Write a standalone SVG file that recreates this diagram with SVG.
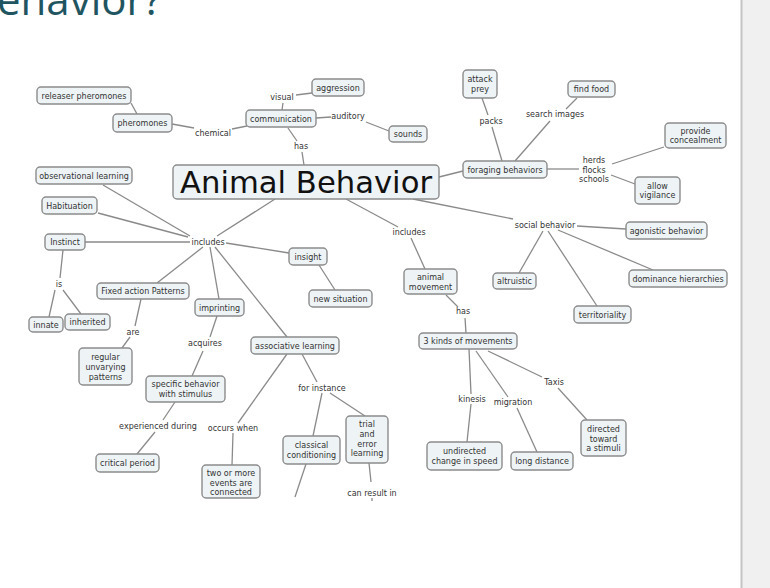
<svg xmlns="http://www.w3.org/2000/svg" width="770" height="588" viewBox="0 0 770 588">
<style>
.n rect{fill:#eef3f6;stroke:#8c8c8c;stroke-width:1.4}
text{font-family:"DejaVu Sans",Verdana,sans-serif;font-size:8px;fill:#333;text-anchor:middle}
.c line{stroke:#8a8a8a;stroke-width:1.3;fill:none}
</style>
<rect x="0" y="0" width="770" height="588" fill="#ffffff"/>
<rect x="742" y="0" width="28" height="588" fill="#f0f0f0"/>
<line x1="741.5" y1="0" x2="741.5" y2="588" stroke="#c4c4c4" stroke-width="2"/>
<text x="-3" y="15" style="font-family:'Open Sans','DejaVu Sans',sans-serif;font-size:42px;fill:#1f5561;text-anchor:start">ehavior?</text>

<g class="c" id="connectors">
<line x1="131" y1="103" x2="137" y2="114"/>
<line x1="172" y1="124" x2="194" y2="128"/>
<line x1="232" y1="129" x2="247" y2="126"/>
<line x1="282" y1="110" x2="283" y2="103"/>
<line x1="296" y1="95" x2="312" y2="93"/>
<line x1="316" y1="118" x2="331" y2="117"/>
<line x1="366" y1="122" x2="389" y2="131"/>
<line x1="288" y1="128" x2="297" y2="141"/>
<line x1="302" y1="152" x2="304" y2="165"/>
<line x1="439" y1="177" x2="463" y2="171"/>
<line x1="482" y1="98" x2="488" y2="115"/>
<line x1="492" y1="127" x2="502" y2="161"/>
<line x1="577" y1="98" x2="566" y2="109"/>
<line x1="550" y1="121" x2="515" y2="161"/>
<line x1="547" y1="169" x2="579" y2="169"/>
<line x1="612" y1="164" x2="664" y2="147"/>
<line x1="611" y1="175" x2="635" y2="184"/>
<line x1="413" y1="199" x2="513" y2="219"/>
<line x1="577" y1="226" x2="626" y2="229"/>
<line x1="543" y1="231" x2="519" y2="273"/>
<line x1="548" y1="231" x2="597" y2="306"/>
<line x1="558" y1="230" x2="653" y2="270"/>
<line x1="346" y1="199" x2="398" y2="227"/>
<line x1="411" y1="238" x2="425" y2="269"/>
<line x1="446" y1="295" x2="458" y2="307"/>
<line x1="465" y1="318" x2="466" y2="333"/>
<line x1="469" y1="349" x2="471" y2="394"/>
<line x1="471" y1="404" x2="467" y2="442"/>
<line x1="476" y1="351" x2="508" y2="397"/>
<line x1="517" y1="408" x2="537" y2="452"/>
<line x1="488" y1="351" x2="542" y2="377"/>
<line x1="558" y1="388" x2="587" y2="420"/>
<line x1="103" y1="185" x2="190" y2="236"/>
<line x1="98" y1="213" x2="188" y2="237"/>
<line x1="85" y1="242" x2="190" y2="242"/>
<line x1="275" y1="199" x2="217" y2="236"/>
<line x1="226" y1="243" x2="289" y2="253"/>
<line x1="203" y1="247" x2="157" y2="283"/>
<line x1="210" y1="247" x2="219" y2="299"/>
<line x1="215" y1="247" x2="287" y2="337"/>
<line x1="319" y1="265" x2="335" y2="290"/>
<line x1="63" y1="250" x2="60" y2="278"/>
<line x1="55" y1="290" x2="49" y2="317"/>
<line x1="63" y1="290" x2="81" y2="314"/>
<line x1="141" y1="299" x2="135" y2="326"/>
<line x1="130" y1="337" x2="122" y2="348"/>
<line x1="217" y1="316" x2="210" y2="337"/>
<line x1="203" y1="351" x2="192" y2="376"/>
<line x1="175" y1="402" x2="163" y2="420"/>
<line x1="155" y1="432" x2="137" y2="454"/>
<line x1="287" y1="354" x2="238" y2="423"/>
<line x1="233" y1="433" x2="232" y2="465"/>
<line x1="302" y1="354" x2="317" y2="382"/>
<line x1="322" y1="393" x2="313" y2="436"/>
<line x1="330" y1="393" x2="365" y2="416"/>
<line x1="306" y1="464" x2="295" y2="497"/>
<line x1="369" y1="463" x2="371" y2="482"/>
<line x1="372" y1="498" x2="372" y2="501"/>
</g>

<g id="labels">
<text x="213" y="136">chemical</text>
<text x="282" y="100">visual</text>
<text x="348" y="119">auditory</text>
<text x="301" y="149">has</text>
<text x="491" y="124">packs</text>
<text x="555" y="117">search images</text>
<text x="594" y="163">herds</text>
<text x="594" y="172.5">flocks</text>
<text x="594" y="182">schools</text>
<text x="545" y="228">social behavior</text>
<text x="409" y="235">includes</text>
<text x="463" y="314">has</text>
<text x="472" y="402">kinesis</text>
<text x="513" y="405">migration</text>
<text x="554" y="385">Taxis</text>
<text x="208" y="245">includes</text>
<text x="59" y="287">is</text>
<text x="133" y="335">are</text>
<text x="205" y="346">acquires</text>
<text x="158" y="429">experienced during</text>
<text x="233" y="431">occurs when</text>
<text x="322" y="391">for instance</text>
<text x="372" y="496">can result in</text>
</g>

<g id="animal-behavior" class="n"><rect x="173" y="165" width="266" height="34" rx="4"/><text x="306" y="193" style="font-size:30px;fill:#111" textLength="252" lengthAdjust="spacingAndGlyphs">Animal Behavior</text></g>
<g id="releaser-pheromones" class="n"><rect x="37" y="87" width="94" height="17" rx="4"/><text x="84" y="98.5">releaser pheromones</text></g>
<g id="pheromones" class="n"><rect x="113" y="114" width="59" height="18" rx="4"/><text x="142.5" y="126">pheromones</text></g>
<g id="communication" class="n"><rect x="246" y="110" width="70" height="17" rx="4"/><text x="281" y="121.5">communication</text></g>
<g id="aggression" class="n"><rect x="312" y="79" width="52" height="17" rx="4"/><text x="338" y="90.5">aggression</text></g>
<g id="sounds" class="n"><rect x="389" y="126" width="38" height="16" rx="4"/><text x="408" y="137">sounds</text></g>
<g id="attack-prey" class="n"><rect x="463" y="70" width="34" height="28" rx="4"/><text x="480" y="82">attack</text><text x="480" y="91.5">prey</text></g>
<g id="find-food" class="n"><rect x="568" y="81" width="47" height="16" rx="4"/><text x="591.5" y="92">find food</text></g>
<g id="foraging-behaviors" class="n"><rect x="463" y="161" width="84" height="17" rx="4"/><text x="505" y="172.5">foraging behaviors</text></g>
<g id="provide-concealment" class="n"><rect x="665" y="123" width="61" height="25" rx="4"/><text x="695.5" y="134">provide</text><text x="695.5" y="143">concealment</text></g>
<g id="allow-vigilance" class="n"><rect x="635" y="177" width="45" height="27" rx="4"/><text x="657.5" y="189">allow</text><text x="657.5" y="198">vigilance</text></g>
<g id="agonistic-behavior" class="n"><rect x="626" y="222" width="81" height="17" rx="4"/><text x="666.5" y="233.5">agonistic behavior</text></g>
<g id="altruistic" class="n"><rect x="493" y="273" width="43" height="16" rx="4"/><text x="514.5" y="284">altruistic</text></g>
<g id="dominance-hierarchies" class="n"><rect x="629" y="270" width="98" height="17" rx="4"/><text x="678" y="281.5">dominance hierarchies</text></g>
<g id="territoriality" class="n"><rect x="574" y="306" width="57" height="17" rx="4"/><text x="602.5" y="317.5">territoriality</text></g>
<g id="animal-movement" class="n"><rect x="404" y="269" width="53" height="25" rx="4"/><text x="430.5" y="280">animal</text><text x="430.5" y="290">movement</text></g>
<g id="kinds-of-movements" class="n"><rect x="419" y="333" width="98" height="16" rx="4"/><text x="468" y="344">3 kinds of movements</text></g>
<g id="undirected" class="n"><rect x="427" y="442" width="75" height="28" rx="4"/><text x="464.5" y="454">undirected</text><text x="464.5" y="463.5">change in speed</text></g>
<g id="long-distance" class="n"><rect x="511" y="452" width="62" height="18" rx="4"/><text x="542" y="464">long distance</text></g>
<g id="directed" class="n"><rect x="581" y="420" width="45" height="36" rx="4"/><text x="603.5" y="432">directed</text><text x="603.5" y="441.5">toward</text><text x="603.5" y="451">a stimuli</text></g>
<g id="observational-learning" class="n"><rect x="36" y="167" width="96" height="17" rx="4"/><text x="84" y="178.5">observational learning</text></g>
<g id="habituation" class="n"><rect x="42" y="197" width="55" height="17" rx="4"/><text x="69.5" y="208.5">Habituation</text></g>
<g id="instinct" class="n"><rect x="45" y="234" width="40" height="16" rx="4"/><text x="65" y="245">Instinct</text></g>
<g id="insight" class="n"><rect x="289" y="248" width="38" height="17" rx="4"/><text x="308" y="259.5">insight</text></g>
<g id="new-situation" class="n"><rect x="309" y="290" width="63" height="17" rx="4"/><text x="340.5" y="301.5">new situation</text></g>
<g id="fixed-action-patterns" class="n"><rect x="97" y="283" width="92" height="16" rx="4"/><text x="143" y="294">Fixed action Patterns</text></g>
<g id="imprinting" class="n"><rect x="195" y="299" width="49" height="17" rx="4"/><text x="219.5" y="310.5">imprinting</text></g>
<g id="innate" class="n"><rect x="29" y="317" width="34" height="15" rx="4"/><text x="46" y="327.5">innate</text></g>
<g id="inherited" class="n"><rect x="65" y="314" width="45" height="16" rx="4"/><text x="87.5" y="325">inherited</text></g>
<g id="regular-patterns" class="n"><rect x="79" y="348" width="53" height="37" rx="4"/><text x="105.5" y="360">regular</text><text x="105.5" y="370">unvarying</text><text x="105.5" y="380">patterns</text></g>
<g id="specific-behavior" class="n"><rect x="146" y="376" width="79" height="26" rx="4"/><text x="185.5" y="387">specific behavior</text><text x="185.5" y="396.5">with stimulus</text></g>
<g id="critical-period" class="n"><rect x="96" y="454" width="63" height="18" rx="4"/><text x="127.5" y="466">critical period</text></g>
<g id="associative-learning" class="n"><rect x="251" y="337" width="88" height="17" rx="4"/><text x="295" y="348.5">associative learning</text></g>
<g id="two-or-more" class="n"><rect x="202" y="465" width="58" height="33" rx="4"/><text x="231" y="476">two or more</text><text x="231" y="485.5">events are</text><text x="231" y="495">connected</text></g>
<g id="classical-conditioning" class="n"><rect x="283" y="436" width="57" height="28" rx="4"/><text x="311.5" y="448">classical</text><text x="311.5" y="458">conditioning</text></g>
<g id="trial-and-error" class="n"><rect x="346" y="416" width="42" height="47" rx="4"/><text x="367" y="427">trial</text><text x="367" y="437">and</text><text x="367" y="446.5">error</text><text x="367" y="456">learning</text></g>
</svg>
